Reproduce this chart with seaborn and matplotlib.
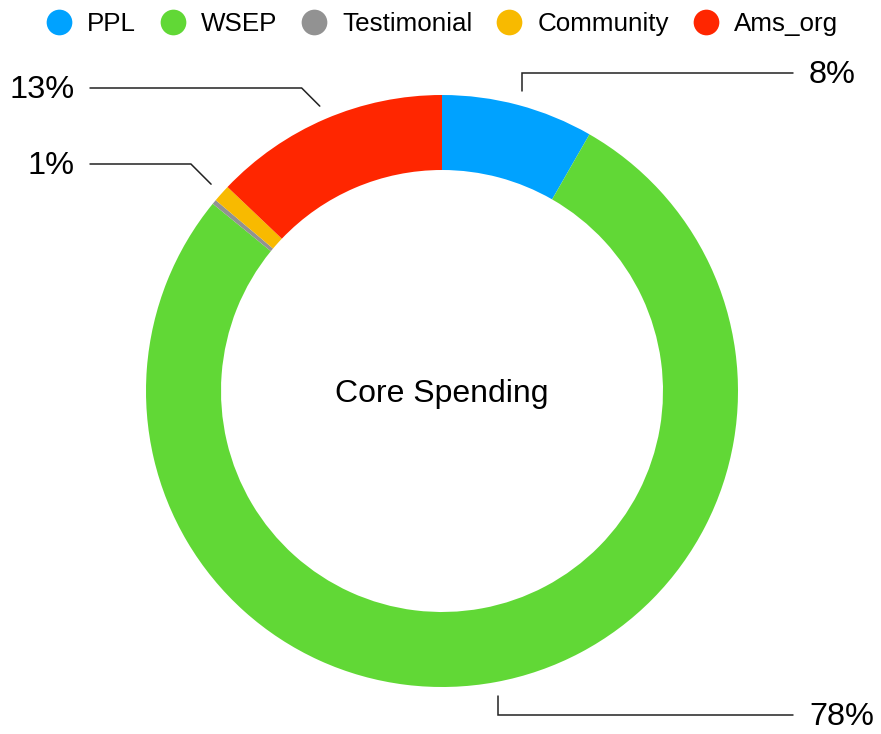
import numpy as np
import matplotlib
matplotlib.use("Agg")
import matplotlib.pyplot as plt
from matplotlib.lines import Line2D
import seaborn as sns

# ---- data ----
categories = ["PPL", "WSEP", "Testimonial", "Community", "Ams_org"]
shares = [8.3, 77.6, 0.25, 0.95, 12.9]
colors = ["#00A2FF", "#61D836", "#929292", "#F8BA00", "#FF2600"]
shown_labels = ["8%", "78%", None, "1%", "13%"]
center_title = "Core Spending"

sns.set_theme(style="white")
plt.rcParams["font.family"] = ["Liberation Sans", "DejaVu Sans"]
plt.rcParams["text.color"] = "black"

W, H = 881, 734
fig = plt.figure(figsize=(W / 100, H / 100), dpi=100)
ax = fig.add_axes([0, 0, 1, 1])

cx, cy_s = 442, 391          # centre in screen pixels
R, ring = 296, 75
cy = H - cy_s

wedges, _ = ax.pie(shares, colors=colors, startangle=90, counterclock=False,
                   radius=R, center=(cx, cy),
                   wedgeprops=dict(width=ring, linewidth=0))

ax.set_xlim(0, W)
ax.set_ylim(0, H)
ax.set_aspect("auto")
ax.axis("off")

ax.text(cx, cy - 3, center_title, ha="center", va="center", fontsize=23, color="black")

# leader lines & labels
label_side = {"8%": ("right", 73), "78%": ("right", 715), "13%": ("left", 88), "1%": ("left", 164)}
total = sum(shares)
cum = 0.0
r0 = 310
for val, lab in zip(shares, shown_labels):
    mid = (cum + val / 2) / total * 360.0
    cum += val
    if lab is None:
        continue
    th = np.deg2rad(mid)
    xs = cx + r0 * np.sin(th)
    ys_s = cy_s - r0 * np.cos(th)
    side, yl_s = label_side[lab]
    if side == "right":
        pts = [(xs, ys_s), (xs, yl_s), (793, yl_s)]
        tx, ha = 809, "left"
    else:
        d = ys_s - yl_s
        pts = [(xs, ys_s), (xs - d, yl_s), (90, yl_s)]
        tx, ha = 75, "right"
    px = [p[0] for p in pts]
    py = [H - p[1] for p in pts]
    ax.plot(px, py, color="#222222", lw=1.1, solid_joinstyle="miter")
    ax.text(tx, H - yl_s - 2, lab, ha=ha, va="center", fontsize=23.4, color="black")

handles = [Line2D([0], [0], marker="o", linestyle="none", markersize=18.5,
                  markerfacecolor=c, markeredgewidth=0) for c in colors]
leg = fig.legend(handles, categories, loc="center", bbox_to_anchor=(442 / W, 1 - 24 / H),
                 ncol=5, frameon=False, fontsize=18.7, handlelength=1.0,
                 handletextpad=0.6, columnspacing=0.9, borderpad=0, borderaxespad=0)
for t in leg.get_texts():
    t.set_color("black")

fig.savefig("out.png", dpi=100)
